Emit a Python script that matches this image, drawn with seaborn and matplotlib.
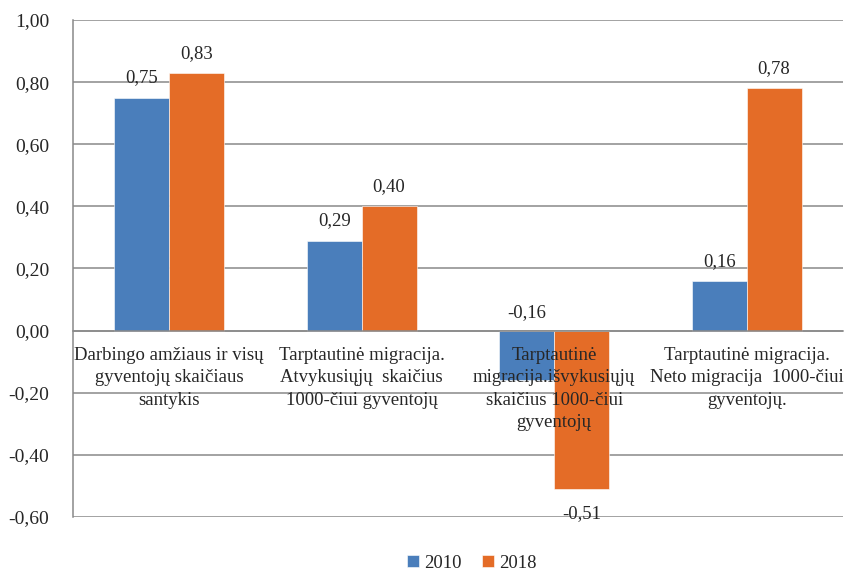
import pandas as pd
import numpy as np
import matplotlib.pyplot as plt
import seaborn as sns

categories = [
    "Darbingo amžiaus ir visų\ngyventojų skaičiaus\nsantykis",
    "Tarptautinė migracija.\nAtvykusiųjų  skaičius\n1000-čiui gyventojų",
    "Tarptautinė\nmigracija.išvykusiųjų\nskaičius 1000-čiui\ngyventojų",
    "Tarptautinė migracija.\nNeto migracija  1000-čiui\ngyventojų.",
]
years = ["2010", "2018"]
values_2010 = [0.75, 0.29, -0.16, 0.16]
values_2018 = [0.83, 0.40, -0.51, 0.78]

colors = ["#4A7EBB", "#E46C27"]
grey = "#898989"

df = pd.DataFrame({
    "cat": categories * 2,
    "year": [years[0]] * 4 + [years[1]] * 4,
    "value": values_2010 + values_2018,
})

sns.set_style("white")
plt.rcParams["font.family"] = ["Liberation Serif", "DejaVu Serif"]
fs = 13.5

fig = plt.figure(figsize=(8.48, 5.73), dpi=100)
ax = fig.add_axes([0.086, 0.098, 0.908, 0.867])

sns.barplot(data=df, x="cat", y="value", hue="year", palette=colors, saturation=1,
            width=0.57, gap=0, edgecolor="white", linewidth=0.4, ax=ax, zorder=3)

ax.set_xlim(-0.5, 3.5)
ax.set_ylim(-0.6, 1.0)
yt = np.arange(-0.6, 1.01, 0.2)
ax.set_yticks(yt)
ax.set_yticklabels([f"{v:.2f}".replace(".", ",") for v in yt], fontsize=14)
ax.yaxis.grid(True, color=grey, linewidth=1.1, zorder=0)
ax.set_axisbelow(True)

# x axis at zero with boundary ticks
ax.spines["bottom"].set_position(("data", 0))
ax.spines["bottom"].set_color(grey)
ax.spines["bottom"].set_linewidth(1.1)
ax.spines["bottom"].set_zorder(4)
ax.set_xticks([-0.5, 0.5, 1.5, 2.5, 3.5])
ax.set_xticklabels([])
ax.tick_params(axis="x", direction="out", length=5, color=grey, width=1.1)
ax.tick_params(axis="y", direction="out", length=7, color=grey, width=1.1, pad=10)
ax.spines["left"].set_color(grey)
ax.spines["left"].set_linewidth(1.1)
for s in ["top", "right"]:
    ax.spines[s].set_visible(False)
ax.set_xlabel("")
ax.set_ylabel("")

for i, c in enumerate(categories):
    ax.text(i, -0.052, c, ha="center", va="top", fontsize=fs,
            linespacing=1.42, zorder=5)

# value labels
for patch in ax.patches:
    h = patch.get_height()
    if patch.get_width() == 0:
        continue
    x = patch.get_x() + patch.get_width() / 2
    label = f"{h:.2f}".replace(".", ",")
    if h >= 0:
        ax.annotate(label, (x, h), xytext=(0, 8), textcoords="offset points",
                    ha="center", va="bottom", fontsize=fs)
    elif h > -0.3:
        ax.annotate(label, (x, 0), xytext=(0, 7), textcoords="offset points",
                    ha="center", va="bottom", fontsize=fs)
    else:
        ax.annotate(label, (x, h), xytext=(0, -12), textcoords="offset points",
                    ha="center", va="top", fontsize=fs)

ax.legend(loc="center", bbox_to_anchor=(0.518, -0.093), ncol=2, frameon=False,
          fontsize=fs, handlelength=0.65, handleheight=0.65, handletextpad=0.25,
          columnspacing=1.1, borderpad=0.2)

plt.savefig("out.png", dpi=100)
